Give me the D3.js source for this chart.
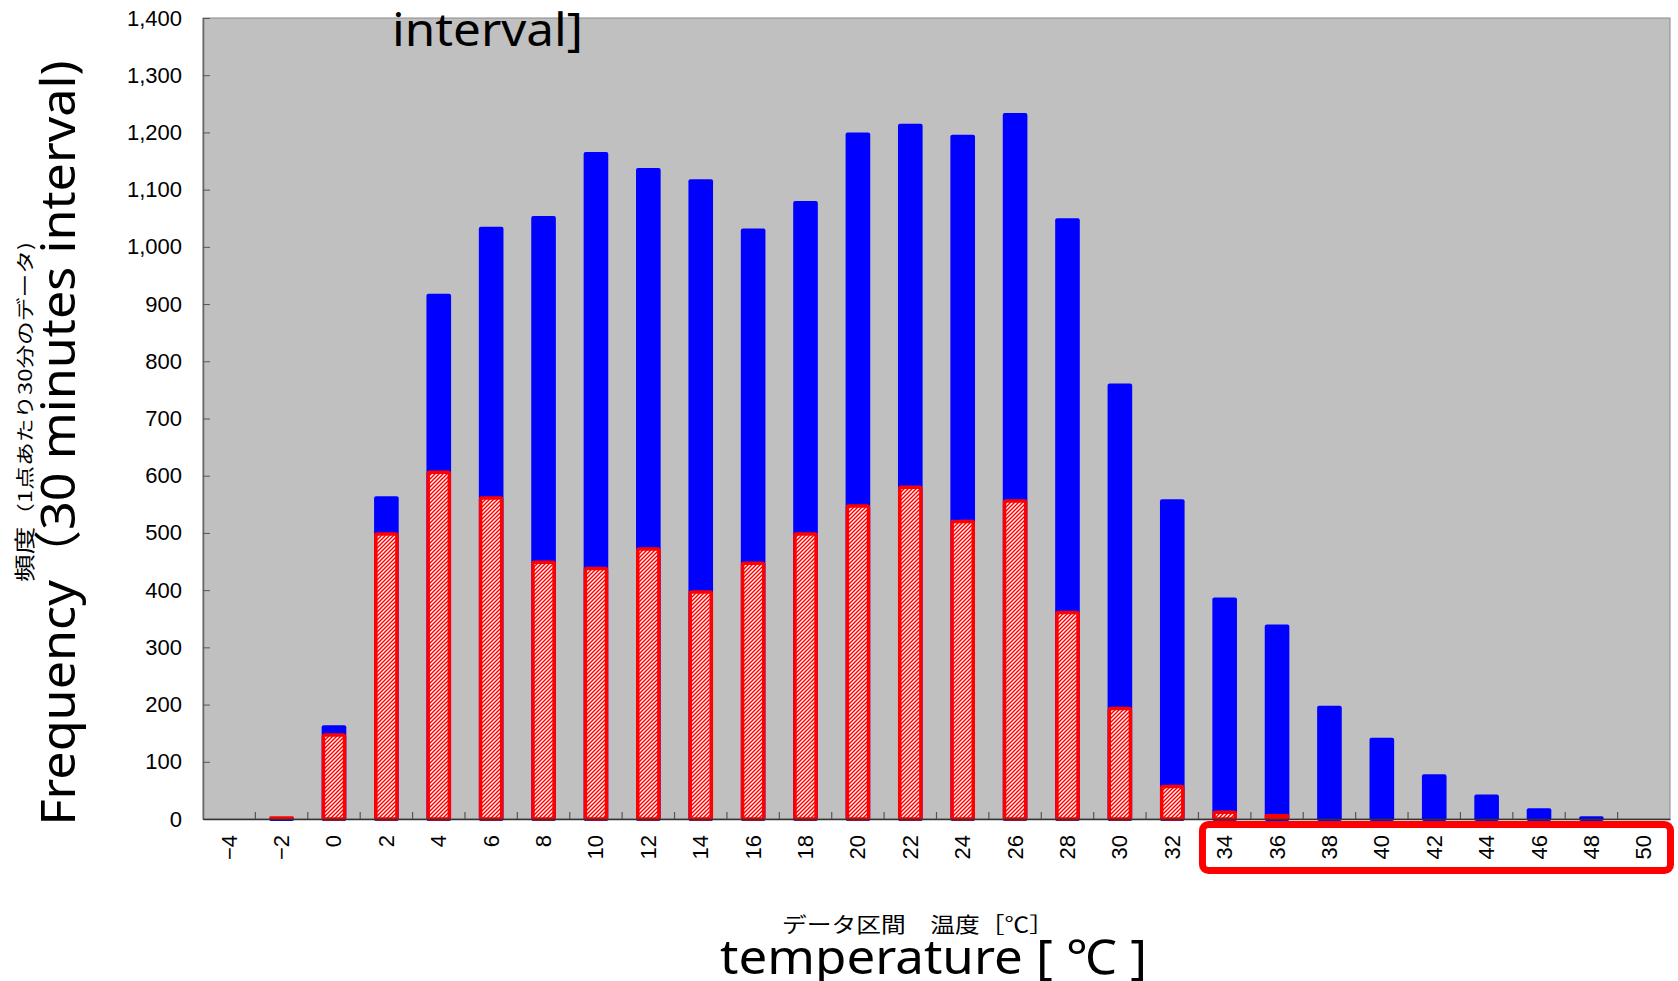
<!DOCTYPE html>
<html>
<head>
<meta charset="utf-8">
<script src="https://cdn.jsdelivr.net/npm/d3@7"></script>
<style>
  body { margin: 0; background: #fff; }
</style>
</head>
<body>
<div class="chart"></div>
<script>
// DATA
var categories = ["−4", "−2", "0", "2", "4", "6", "8", "10", "12", "14", "16", "18", "20", "22",
  "24", "26", "28", "30", "32", "34", "36", "38", "40", "42", "44", "46", "48", "50"];

// blue bars (all data)
var totalFreq = [0, 3, 164, 564, 918, 1035, 1054, 1166, 1138, 1118, 1032, 1080, 1200, 1215,
  1196, 1234, 1050, 761, 559, 387, 340, 198, 142, 78, 43, 19, 5, 0];

// red hatched bars
var redFreq = [0, 3, 150, 501, 609, 564, 452, 441, 475, 400, 450, 501, 550, 583,
  523, 559, 364, 196, 60, 15, 7, 0, 0, 0, 0, 0, 0, 0];

var yTicks = d3.range(0, 1401, 100);

// SET UP SIZE, DIMENSION, & LOCATION OF CHART AREA
var svgWidth = 1678;
var svgHeight = 981;

var margin = {
  top: 18,
  right: 8,
  bottom: 162,
  left: 203
};

var width = svgWidth - margin.left - margin.right;
var height = svgHeight - margin.top - margin.bottom;

var svg = d3.select(".chart")
  .append("svg")
  .attr("width", svgWidth)
  .attr("height", svgHeight)
  .style("display", "block");

// hatch pattern for the red bars
var defs = svg.append("defs");
var hatch = defs.append("pattern")
  .attr("id", "hatch")
  .attr("patternUnits", "userSpaceOnUse")
  .attr("width", 4)
  .attr("height", 4);
hatch.append("rect")
  .attr("width", 4)
  .attr("height", 4)
  .attr("fill", "#ffffff");
hatch.append("path")
  .attr("d", "M-1,1 l2,-2 M0,4 l4,-4 M3,5 l2,-2")
  .attr("stroke", "#ff0000")
  .attr("stroke-width", 1.5);

var chartGroup = svg.append("g")
  .attr("transform", `translate(${margin.left}, ${margin.top})`);

// scales
var xScale = d3.scaleBand()
  .domain(categories)
  .range([0, width])
  .paddingInner(0.53)
  .paddingOuter(0.265);

var yScale = d3.scaleLinear()
  .domain([0, 1400])
  .range([height, 0]);

// plot area background
chartGroup.append("rect")
  .attr("width", width)
  .attr("height", height)
  .attr("fill", "#c0c0c0")
  .attr("stroke", "#8a8a8a")
  .attr("stroke-width", 1);

// blue bars
chartGroup.selectAll(".blue")
  .data(categories.map((c, i) => ({cat: c, v: totalFreq[i]})).filter(d => d.v > 0))
  .enter()
  .append("rect")
  .attr("class", "blue")
  .attr("x", d => xScale(d.cat))
  .attr("y", d => yScale(d.v))
  .attr("width", xScale.bandwidth())
  .attr("height", d => height - yScale(d.v) + 2)
  .attr("rx", 2)
  .attr("fill", "#0000ff");

// red hatched bars, drawn over the blue ones
var sw = 3.5;
chartGroup.selectAll(".red")
  .data(categories.map((c, i) => ({cat: c, v: redFreq[i]})).filter(d => d.v > 0))
  .enter()
  .append("rect")
  .attr("class", "red")
  .each(function(d) {
    var h = height - yScale(d.v);
    var r = d3.select(this);
    if (h <= sw * 2) {
      // too small for a hatched inside, just a red strip
      r.attr("x", xScale(d.cat))
        .attr("y", yScale(d.v) - 1)
        .attr("width", xScale.bandwidth())
        .attr("height", h + 1)
        .attr("rx", 1.5)
        .attr("fill", "#ff0000");
    } else {
      r.attr("x", xScale(d.cat) + sw / 2)
        .attr("y", yScale(d.v) + sw / 2)
        .attr("width", xScale.bandwidth() - sw)
        .attr("height", h - sw / 2)
        .attr("rx", 1.5)
        .attr("fill", "url(#hatch)")
        .attr("stroke", "#ff0000")
        .attr("stroke-width", sw);
    }
  });

// y axis, ticks pointing inward
var leftAxis = d3.axisLeft(yScale)
  .tickValues(yTicks)
  .tickFormat(d3.format(","))
  .tickSizeInner(-7)
  .tickSizeOuter(0)
  .tickPadding(21);

var yAxis = chartGroup.append("g").call(leftAxis);
yAxis.select(".domain").attr("stroke", "#666").attr("stroke-width", 1.5);
yAxis.selectAll(".tick line").attr("stroke", "#555");
yAxis.selectAll("text")
  .style("font-family", "'Liberation Sans', Arial, sans-serif")
  .style("font-size", "22px")
  .attr("fill", "#000");

// x axis - labels only, rotated
var bottomAxis = d3.axisBottom(xScale)
  .tickSize(0)
  .tickPadding(0);

var xAxis = chartGroup.append("g")
  .attr("transform", `translate(0, ${height})`)
  .call(bottomAxis);
xAxis.select(".domain").attr("stroke", "#333").attr("stroke-width", 1.5);
xAxis.selectAll("text")
  .attr("y", 0)
  .attr("dy", null)
  .attr("x", -16)
  .attr("transform", "rotate(-90)")
  .attr("dominant-baseline", "central")
  .style("text-anchor", "end")
  .style("font-family", "'Liberation Sans', Arial, sans-serif")
  .style("font-size", "22px")
  .attr("fill", "#000");

// small ticks between the categories
chartGroup.append("g")
  .selectAll("line")
  .data(categories.slice(1))
  .enter()
  .append("line")
  .attr("x1", d => xScale(d) - xScale.step() * xScale.paddingInner() / 2)
  .attr("x2", d => xScale(d) - xScale.step() * xScale.paddingInner() / 2)
  .attr("y1", height)
  .attr("y2", height - 7)
  .attr("stroke", "#555")
  .attr("stroke-width", 1.2);

// red outline box around 34 - 50
var boxLeft = xScale("34") - xScale.step() * xScale.paddingInner() / 2 + 4;
chartGroup.append("rect")
  .attr("x", boxLeft)
  .attr("y", height + 5.5)
  .attr("width", width + 0.5 - boxLeft)
  .attr("height", 46)
  .attr("rx", 6)
  .attr("fill", "none")
  .attr("stroke", "#ff0000")
  .attr("stroke-width", 7);

// axis titles
var bigFont = "'Noto Sans', 'Open Sans', 'Noto Sans CJK JP', sans-serif";
var jpFont = "'Noto Sans CJK JP', sans-serif";

svg.append("text")
  .attr("transform", "translate(75, 443) rotate(-90)")
  .attr("text-anchor", "middle")
  .attr("textLength", 765)
  .attr("lengthAdjust", "spacingAndGlyphs")
  .style("font-family", bigFont)
  .style("font-size", "48px")
  .text("Frequency（30 minutes interval)");

var jpY = svg.append("text")
  .attr("transform", "translate(32, 412) rotate(-90)")
  .attr("text-anchor", "middle")
  .attr("textLength", 340)
  .attr("lengthAdjust", "spacingAndGlyphs")
  .style("font-family", jpFont);
jpY.append("tspan").style("font-size", "21px").text("頻度");
jpY.append("tspan").style("font-size", "18px").text("（1点あたり30分のデータ)");

svg.append("text")
  .attr("x", 392)
  .attr("y", 46)
  .attr("textLength", 191)
  .attr("lengthAdjust", "spacingAndGlyphs")
  .style("font-family", bigFont)
  .style("font-size", "46px")
  .text("interval]");

svg.append("text")
  .attr("x", 782)
  .attr("y", 932)
  .attr("textLength", 272)
  .attr("lengthAdjust", "spacingAndGlyphs")
  .style("font-family", jpFont)
  .style("font-size", "21px")
  .text("データ区間　温度［℃］");

svg.append("text")
  .attr("x", 720)
  .attr("y", 974)
  .attr("textLength", 427)
  .attr("lengthAdjust", "spacingAndGlyphs")
  .style("font-family", bigFont)
  .style("font-size", "48px")
  .text("temperature [ ℃ ]");
</script>
</body>
</html>
